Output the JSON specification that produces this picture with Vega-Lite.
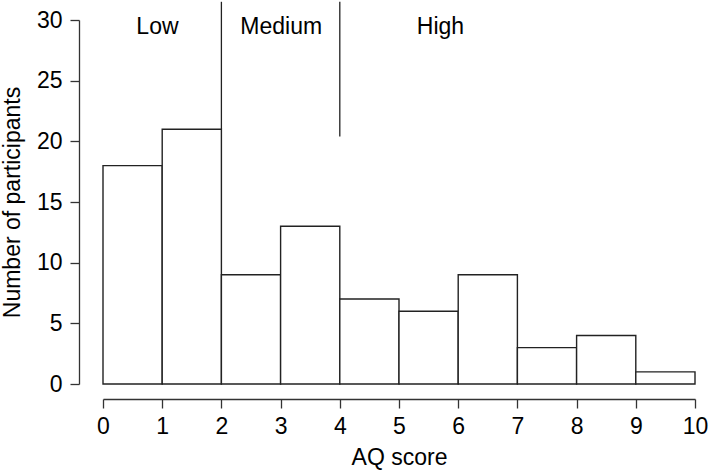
{
  "$schema": "https://vega.github.io/schema/vega-lite/v6.json",
  "autosize": "none",
  "width": 592,
  "height": 364,
  "padding": {"left": 103, "top": 20, "right": 14, "bottom": 90},
  "background": "white",
  "config": {
    "view": {"stroke": null},
    "font": "Liberation Sans",
    "axis": {
      "grid": false,
      "labelFont": "Liberation Sans",
      "titleFont": "Liberation Sans",
      "labelFontSize": 23,
      "titleFontSize": 23,
      "titleFontWeight": "normal",
      "labelColor": "black",
      "titleColor": "black",
      "domainColor": "#333333",
      "tickColor": "#333333",
      "domainWidth": 1.3,
      "tickWidth": 1.3,
      "tickSize": 9,
      "format": "d"
    }
  },
  "layer": [
    {
      "data": {"values": [
        {"start": 0, "end": 1, "count": 18},
        {"start": 1, "end": 2, "count": 21},
        {"start": 2, "end": 3, "count": 9},
        {"start": 3, "end": 4, "count": 13},
        {"start": 4, "end": 5, "count": 7},
        {"start": 5, "end": 6, "count": 6},
        {"start": 6, "end": 7, "count": 9},
        {"start": 7, "end": 8, "count": 3},
        {"start": 8, "end": 9, "count": 4},
        {"start": 9, "end": 10, "count": 1}
      ]},
      "mark": {"type": "rect", "fill": "white", "stroke": "#222222", "strokeWidth": 1.4},
      "encoding": {
        "x": {"field": "start", "type": "quantitative",
              "scale": {"domain": [0, 10], "nice": false, "zero": false},
              "axis": {"title": "AQ score", "values": [0,1,2,3,4,5,6,7,8,9,10], "format": "d", "offset": 15, "labelPadding": 7, "titlePadding": 8, "labelFlush": false}},
        "x2": {"field": "end"},
        "y": {"field": "count", "type": "quantitative",
              "scale": {"domain": [0, 30], "nice": false},
              "axis": {"title": "Number of participants", "values": [0,5,10,15,20,25,30], "format": "d", "offset": 24, "labelPadding": 8, "titlePadding": 12, "labelFlush": false}},
        "y2": {"datum": 0}
      }
    },
    {
      "data": {"values": [
        {"pos": 2, "low": 21, "high": 31.5},
        {"pos": 4, "low": 20.4, "high": 31.5}
      ]},
      "mark": {"type": "rule", "stroke": "#222222", "strokeWidth": 1.3},
      "encoding": {
        "x": {"field": "pos", "type": "quantitative"},
        "y": {"field": "low", "type": "quantitative"},
        "y2": {"field": "high"}
      }
    },
    {
      "data": {"values": [
        {"label": "Low", "pos": 0.92, "level": 29.4},
        {"label": "Medium", "pos": 3.01, "level": 29.4},
        {"label": "High", "pos": 5.7, "level": 29.4}
      ]},
      "mark": {"type": "text", "fontSize": 23, "font": "Liberation Sans", "color": "black", "baseline": "middle", "align": "center"},
      "encoding": {
        "x": {"field": "pos", "type": "quantitative"},
        "y": {"field": "level", "type": "quantitative"},
        "text": {"field": "label"}
      }
    }
  ]
}
